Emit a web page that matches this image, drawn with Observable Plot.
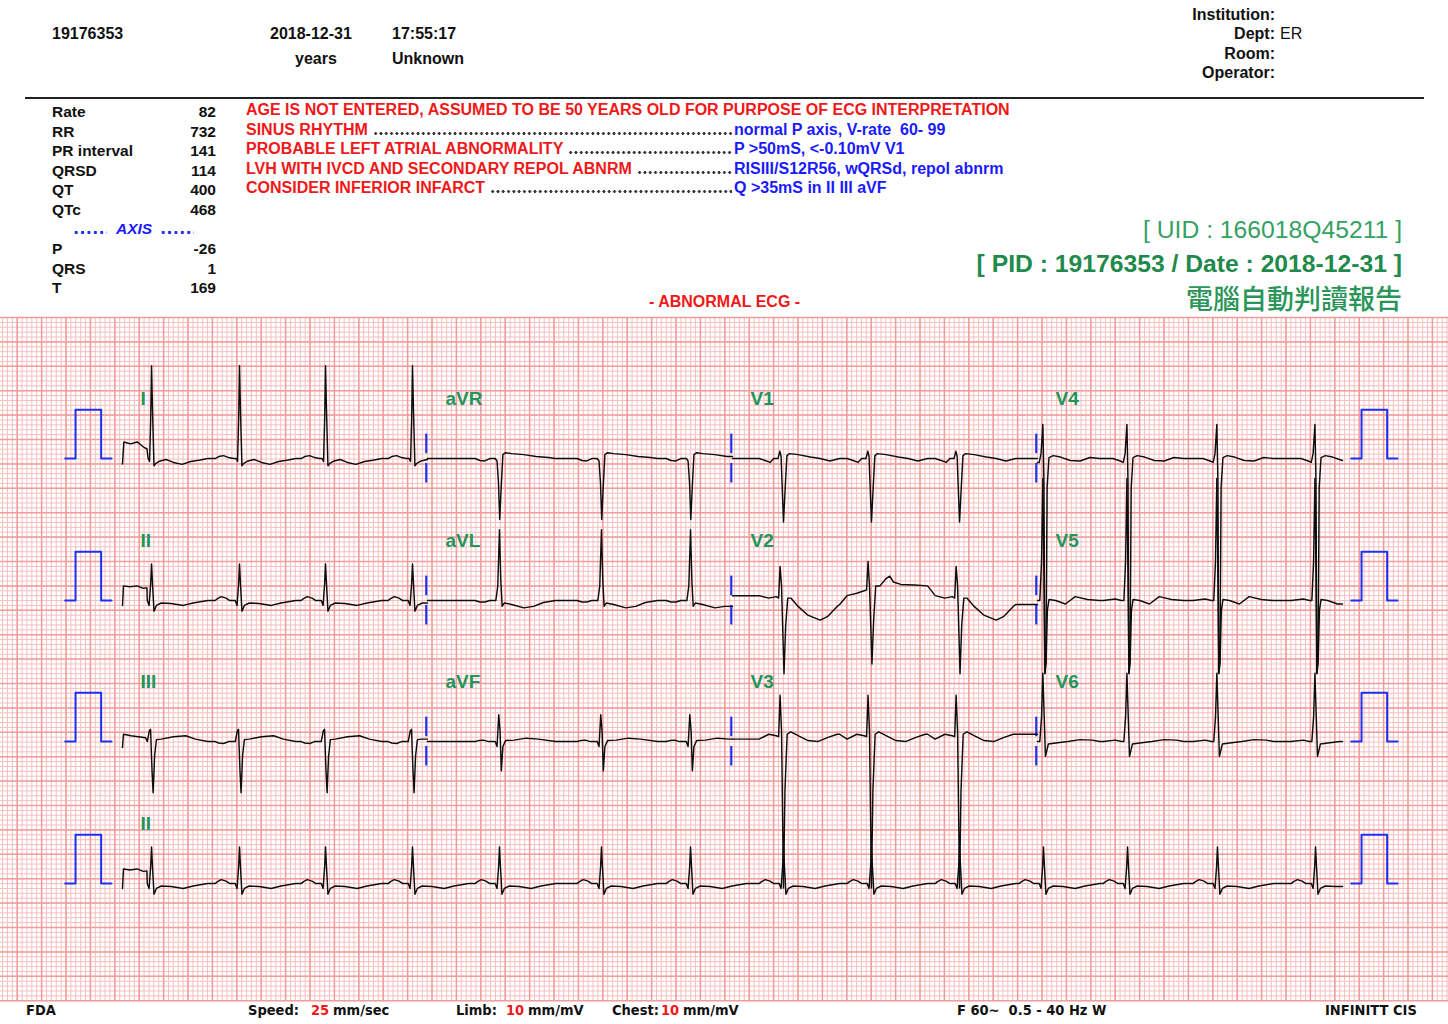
<!DOCTYPE html>
<html><head><meta charset="utf-8">
<script src="https://cdn.jsdelivr.net/npm/d3@7"></script>
<script src="https://cdn.jsdelivr.net/npm/@observablehq/plot@0.6"></script>
<style>
html,body{margin:0;padding:0;background:#fff;}
body{width:1448px;height:1024px;overflow:hidden;position:relative;font-family:"Liberation Sans",Arial,sans-serif;}
.t{position:absolute;white-space:pre;font-weight:bold;font-size:15.5px;line-height:18px;color:#111;}
.foot{position:absolute;white-space:pre;font-weight:bold;font-size:14.5px;line-height:18px;color:#111;font-family:"Liberation Sans Narrow","DejaVu Sans Condensed",sans-serif;top:1001px;}
.r{text-align:right;}
.t.red,.foot.red,.red{color:#f01818;}
.t.blue,.blue{color:#1a1aff;}
.t.green{color:#23955a;}
.lead{display:flex;align-items:flex-end;}
.dots{flex:1;height:3px;margin:0 2px 4px 5px;background-image:radial-gradient(circle,#333 40%,transparent 55%);background-size:5.3px 3px;background-repeat:repeat-x;}
.bdots{display:inline-block;height:3px;background-image:radial-gradient(circle,#2233ee 40%,transparent 55%);background-size:6.4px 3px;background-repeat:repeat-x;}
</style></head><body>
<div id="chart" style="position:absolute;left:0;top:317px;"></div>
<script>
// ---------- header / report data ----------
const patientId = "19176353";
const recDate = "2018-12-31";
const recTime = "17:55:17";
const ageText = "years";
const sexText = "Unknown";
const infoLabels = ["Institution:", "Dept:", "Room:", "Operator:"];
const infoValues = ["", "ER", "", ""];
const measureNames = ["Rate", "RR", "PR interval", "QRSD", "QT", "QTc"];
const measureValues = [82, 732, 141, 114, 400, 468];
const axisNames = ["P", "QRS", "T"];
const axisValues = [-26, 1, 169];
const interpRed = [
  "AGE IS NOT ENTERED, ASSUMED TO BE 50 YEARS OLD FOR PURPOSE OF ECG INTERPRETATION",
  "SINUS RHYTHM",
  "PROBABLE LEFT ATRIAL ABNORMALITY",
  "LVH WITH IVCD AND SECONDARY REPOL ABNRM",
  "CONSIDER INFERIOR INFARCT"];
const interpBlue = ["", "normal P axis, V-rate  60- 99", "P >50mS, <-0.10mV V1", "RISIII/S12R56, wQRSd, repol abnrm", "Q >35mS in II III aVF"];
const uidText = "[ UID : 166018Q45211 ]";
const pidText = "[ PID : 19176353 / Date : 2018-12-31 ]";
const reportTitle = "電腦自動判讀報告";
const verdict = "- ABNORMAL ECG -";

// ---------- ECG data ----------
// R-peak times (s from start of recording)
const beatTimes = [0.238, 0.959, 1.664, 2.377, 3.090, 3.926, 4.656, 5.418, 6.139, 6.861, 7.549, 8.238, 8.975, 9.779];
const leadGrid = [["I", "aVR", "V1", "V4"], ["II", "aVL", "V2", "V5"], ["III", "aVF", "V3", "V6"]];
const rhythmLead = "II";
// beat templates: [seconds from R peak, mV from baseline]
const tplI = [[-0.2,0],[-0.17,0.04],[-0.13,0.06],[-0.09,0.02],[-0.05,0],[-0.028,0],[-0.016,-0.06],[-0.007,0.8],[0,1.9],[0.008,1.0],[0.02,-0.15],[0.035,-0.1],[0.07,-0.05],[0.12,-0.02],[0.18,-0.08],[0.25,-0.12],[0.32,-0.06],[0.4,-0.03],[0.46,0]];
const tplII = [[-0.2,0],[-0.18,0.04],[-0.15,0.08],[-0.11,0.05],[-0.08,0],[-0.035,0],[-0.02,-0.1],[-0.007,0.35],[0,0.75],[0.009,0.3],[0.02,-0.22],[0.04,-0.1],[0.08,-0.05],[0.16,-0.06],[0.26,-0.1],[0.34,-0.05],[0.46,0]];
const tplIII = [[-0.2,0],[-0.17,-0.03],[-0.13,-0.04],[-0.09,0],[-0.035,0],[-0.018,0.22],[-0.008,0.25],[0.004,-0.6],[0.013,-1.05],[0.025,-0.3],[0.04,0.04],[0.08,0.05],[0.18,0.1],[0.28,0.12],[0.36,0.05],[0.46,0]];
const tplaVR = [[-0.2,0],[-0.16,-0.04],[-0.12,-0.05],[-0.08,0],[-0.035,0],[-0.02,-0.05],[-0.008,-0.5],[0.002,-1.25],[0.014,-0.6],[0.028,0.08],[0.05,0.12],[0.1,0.1],[0.2,0.08],[0.3,0.04],[0.4,0.02],[0.46,0]];
const tplaVL = [[-0.2,0],[-0.16,-0.03],[-0.12,-0.03],[-0.08,0],[-0.03,0],[-0.014,0.3],[0,1.45],[0.011,0.4],[0.022,-0.12],[0.04,-0.05],[0.1,-0.08],[0.2,-0.15],[0.28,-0.12],[0.36,-0.04],[0.46,0]];
const tplaVF = [[-0.2,0],[-0.17,0.02],[-0.13,0.03],[-0.09,0],[-0.035,0],[-0.02,-0.1],[-0.006,0.55],[0.005,0.2],[0.015,-0.6],[0.028,-0.1],[0.05,0.02],[0.12,0.03],[0.22,0.07],[0.32,0.05],[0.46,0]];
const tplV1 = [[-0.2,0],[-0.15,-0.04],[-0.11,-0.08],[-0.08,0],[-0.045,0],[-0.03,0.15],[-0.02,0.05],[0,-1.3],[0.014,-0.6],[0.028,0.06],[0.05,0.1],[0.12,0.08],[0.22,0.03],[0.3,0.0],[0.38,-0.05],[0.46,0]];
const tplV2a = [[-0.2,0.1],[-0.12,0.05],[-0.06,0.08],[-0.04,0.05],[-0.028,0.7],[-0.016,0.3],[0.004,-1.5],[0.018,-0.5],[0.035,0.05],[0.06,0.05],[0.12,-0.12],[0.2,-0.3],[0.3,-0.4],[0.36,-0.33],[0.44,-0.12],[0.46,-0.08]];
const tplV2b = [[-0.2,0.1],[-0.12,0.15],[-0.06,0.2],[-0.04,0.22],[-0.028,0.8],[-0.016,0.3],[0.004,-1.3],[0.018,-0.4],[0.035,0.3],[0.07,0.3],[0.12,0.45],[0.15,0.5],[0.18,0.38],[0.24,0.33],[0.35,0.32],[0.46,0.3]];
const tplV3 = [[-0.2,0.05],[-0.12,0.15],[-0.06,0.12],[-0.04,0.1],[-0.028,0.95],[-0.016,0.2],[0,-3.0],[0.012,-1.0],[0.03,0.15],[0.06,0.2],[0.12,0.12],[0.2,0.02],[0.28,0.0],[0.36,0.08],[0.44,0.15],[0.46,0.15]];
const tplV4 = [[-0.2,0],[-0.12,0],[-0.06,-0.05],[-0.035,-0.08],[-0.02,0.1],[-0.005,0.7],[0.004,-0.5],[0.01,-4.4],[0.02,-4.2],[0.03,-0.6],[0.045,0.02],[0.08,0.06],[0.14,0.03],[0.22,-0.04],[0.3,-0.05],[0.38,0.02],[0.46,0]];
const tplV5 = [[-0.2,0],[-0.1,0.03],[-0.05,0],[-0.03,0],[-0.016,0.8],[-0.005,2.5],[0.004,0.5],[0.012,-1.5],[0.022,-1.2],[0.032,-0.2],[0.045,0.02],[0.1,0],[0.18,-0.07],[0.26,0.08],[0.36,0.02],[0.46,0]];
const tplV6 = [[-0.2,0],[-0.1,0.03],[-0.05,0],[-0.03,0],[-0.016,0.5],[-0.005,1.4],[0.006,0.5],[0.016,-0.3],[0.026,-0.2],[0.04,-0.05],[0.1,-0.03],[0.2,0.0],[0.3,0.04],[0.4,0.03],[0.46,0]];
const leadTemplates = {I:[tplI], II:[tplII], III:[tplIII], aVR:[tplaVR], aVL:[tplaVL], aVF:[tplaVF], V1:[tplV1], V2:[tplV2a, tplV2b, tplV2a], V3:[tplV3], V4:[tplV4], V5:[tplV5], V6:[tplV6]};
// start-of-strip settling step (s, mV)
const onsetI = [[0,-0.11],[0.011,0.34],[0.066,0.3],[0.12,0.34],[0.175,0.23],[0.2,0.2]];
const onsetII = [[0,-0.1],[0.008,0.3],[0.06,0.28],[0.12,0.3],[0.17,0.25],[0.2,0.26]];
const onsetIII = [[0,-0.12],[0.008,0.15],[0.07,0.12],[0.13,0.1],[0.19,0.08]];
const leadOnsets = {I:onsetI, II:onsetII, III:onsetIII};
// calibration pulse: 1 mV, 0.2 s
const calPulse = [[-0.085,0],[0,0],[0,1],[0.21,1],[0.21,0],[0.295,0]];

// ---------- layout ----------
const W = 1448, H = 683;
const pxPerSec = 122, pxPerMv = 48.8, x0 = 122;
const rowBase = [-2.89, -5.8, -8.69, -11.6];
const colDur = 2.5;
const calStarts = [-0.385, 10.156];

// ---------- build header ----------
function addText(txt, left, cy, cls, extra) {
  const d = document.createElement("div");
  d.className = "t " + (cls || "");
  d.textContent = txt;
  d.style.left = left + "px";
  d.style.top = (cy - 9) + "px";
  if (extra) Object.assign(d.style, extra);
  document.body.appendChild(d);
  return d;
}
function addRight(txt, right, cy, cls, extra) {
  return addText(txt, 0, cy, "r " + (cls || ""), Object.assign({left: "auto", right: (W - right) + "px"}, extra || {}));
}
const hdr = {fontSize: "16px"};
addText(patientId, 52, 34, "", hdr);
addText(recDate, 270, 34, "", hdr);
addText(ageText, 295, 59, "", hdr);
addText(recTime, 392, 34, "", hdr);
addText(sexText, 392, 59, "", hdr);
const infoY = [15, 34, 54, 73];
infoLabels.forEach((l, i) => { addRight(l, 1275, infoY[i], "", hdr); if (infoValues[i]) addText(infoValues[i], 1280, infoY[i], "", Object.assign({fontWeight: "normal"}, hdr)); });
const hr = document.createElement("div");
Object.assign(hr.style, {position:"absolute", left:"25px", top:"97px", width:"1399px", height:"2px", background:"#222"});
document.body.appendChild(hr);

measureNames.forEach((n, i) => { const y = 112 + i * 19.6; addText(n, 52, y); addRight(String(measureValues[i]), 216, y); });
{
  const d = addText("", 73, 229, "blue");
  d.innerHTML = '<span class="bdots" style="width:34px"></span><span style="font-style:italic;margin:0 8px 0 9px">AXIS</span><span class="bdots" style="width:34px"></span>';
}
axisNames.forEach((n, i) => { const y = 249 + i * 19.6; addText(n, 52, y); addRight(String(axisValues[i]), 216, y); });

const interpStyle = {fontSize: "16px"};
interpRed.forEach((txt, i) => {
  const y = 110 + i * 19.5;
  if (!interpBlue[i]) { addText(txt, 246, y, "red", interpStyle); return; }
  const d = addText("", 246, y, "lead", Object.assign({width: "488px"}, interpStyle));
  d.innerHTML = '<span class="red">' + txt + '</span><span class="dots"></span>';
  addText(interpBlue[i], 734, y, "blue", interpStyle);
});
addRight(uidText, 1402, 230, "green", {fontSize: "24.7px", lineHeight: "28px", top: "216px", fontWeight: "normal", color: "#35a063"});
addRight(pidText, 1402, 264, "green", {fontSize: "24.7px", lineHeight: "28px", top: "250px", color: "#1f8a4c"});
addRight(reportTitle, 1402, 298, "green", {fontSize: "27px", lineHeight: "32px", top: "282px", fontWeight: "500", color: "#2a9558", fontFamily: '"Noto Sans CJK TC","Noto Sans CJK SC",sans-serif'});
addText(verdict, 649, 302, "red", {fontSize: "16px"});

// footer
const footItems = [["FDA", 26, ""], ["Speed:", 248, ""], ["25", 311, "red"], ["mm/sec", 333, ""], ["Limb:", 456, ""], ["10", 506, "red"], ["mm/mV", 528, ""], ["Chest:", 612, ""], ["10", 661, "red"], ["mm/mV", 683, ""], ["F 60~  0.5 - 40 Hz W", 957, ""], ["INFINITT CIS", 1325, ""]];
footItems.forEach(([s, l, c]) => { const d = document.createElement("div"); d.className = "foot " + c; d.textContent = s; d.style.left = l + "px"; document.body.appendChild(d); });

// ---------- build ECG ----------
function buildLead(name, key, t0, t1, base, onset) {
  const tpls = leadTemplates[name];
  const pts = [];
  let lastT = -Infinity;
  if (onset) onset.forEach(([dt, v]) => { pts.push({t: t0 + dt, y: base + v}); lastT = t0 + dt; });
  const beats = beatTimes.filter(b => b >= t0 && b < t1);
  beats.forEach((b, i) => {
    const tpl = tpls[Math.min(i, tpls.length - 1)];
    tpl.forEach(([dt, v]) => {
      const t = b + dt;
      if (t >= t0 && t <= t1 && t > lastT) { pts.push({t, y: base + v}); lastT = t; }
    });
  });
  if (!onset) pts.unshift({t: t0, y: pts.length ? pts[0].y : base});
  if (pts[pts.length - 1].t < t1) pts.push({t: t1, y: pts[pts.length - 1].y});
  return pts.map(p => ({...p, key}));
}
const trace = [];
leadGrid.forEach((row, r) => row.forEach((name, c) => {
  const t0 = c * colDur, t1 = (c + 1) * colDur;
  trace.push(...buildLead(name, name + r + c, t0, t1, rowBase[r], c === 0 ? leadOnsets[name] : null));
}));
trace.push(...buildLead(rhythmLead, "rhythm", 0, 4 * colDur, rowBase[3], leadOnsets[rhythmLead]));

const pulses = [];
rowBase.forEach((b, r) => calStarts.forEach((s, k) => calPulse.forEach(([dt, v]) => pulses.push({t: s + dt, y: b + v, key: r + "-" + k}))));

const seps = [];
[0, 1, 2].forEach(r => [1, 2, 3].forEach(c => {
  const t = c * colDur - 0.01;
  seps.push({t, y1: rowBase[r] + 0.1, y2: rowBase[r] + 0.5});
  seps.push({t, y1: rowBase[r] - 0.1, y2: rowBase[r] - 0.5});
}));

const labels = [];
leadGrid.forEach((row, r) => row.forEach((name, c) => labels.push({t: c * colDur + 0.148, y: rowBase[r] + 1.23, name})));
labels.push({t: 0.148, y: rowBase[3] + 1.23, name: rhythmLead});

// grid
const xStart = -1, xEnd = (W - x0) / pxPerSec;
const yMin = -H / pxPerMv;
const majorOff = 0.137;
const minorX = d3.range(-40, 300).map(k => +(majorOff + 0.04 * k).toFixed(4)).filter(t => t >= xStart && t <= xEnd);
const majorX = d3.range(-8, 60).map(k => +(majorOff + 0.2 * k).toFixed(4)).filter(t => t >= xStart && t <= xEnd);
const minorY = d3.range(0, 141).map(k => -0.1 * k);
const majorY = d3.range(0, 29).map(k => -0.5 * k);

const chart = Plot.plot({
  width: W, height: H, margin: 0,
  x: {domain: [xStart, xEnd], axis: null},
  y: {domain: [yMin, 0], axis: null},
  style: {background: "#fff", overflow: "visible"},
  marks: [
    Plot.ruleX(minorX, {stroke: "#f7bfbf", strokeWidth: 1}),
    Plot.ruleY(minorY, {stroke: "#f7bfbf", strokeWidth: 1}),
    Plot.ruleX(majorX, {stroke: "#f29c9c", strokeWidth: 1.5}),
    Plot.ruleY(majorY, {stroke: "#f29c9c", strokeWidth: 1.5}),
    Plot.line(pulses, {x: "t", y: "y", z: "key", stroke: "#2030f0", strokeWidth: 2, curve: "linear"}),
    Plot.ruleX(seps, {x: "t", y1: "y1", y2: "y2", stroke: "#2030f0", strokeWidth: 2.2}),
    Plot.line(trace, {x: "t", y: "y", z: "key", stroke: "#0d0d0d", strokeWidth: 1.45, curve: "linear"}),
    Plot.text(labels, {x: "t", y: "y", text: "name", fill: "#23955a", fontSize: 19, fontWeight: "bold", textAnchor: "start", fontFamily: "Liberation Sans, Arial, sans-serif"})
  ]
});
document.getElementById("chart").appendChild(chart);
</script>
</body></html>
